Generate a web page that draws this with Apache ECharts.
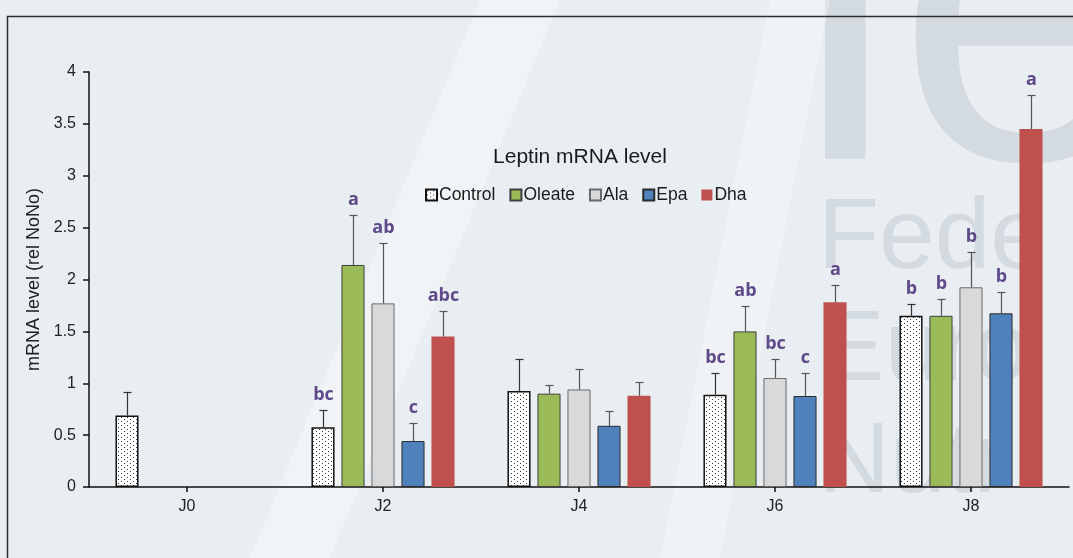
<!DOCTYPE html>
<html><head><meta charset="utf-8">
<script src="https://cdn.jsdelivr.net/npm/echarts/dist/echarts.min.js"></script>
<style>html,body{margin:0;padding:0;background:#e9eef2;overflow:hidden}#c{width:1073px;height:558px}</style>
</head><body><div id="c"></div>
<script>
const categories = ['J0', 'J2', 'J4', 'J6', 'J8'];
const seriesNames = ['Control', 'Oleate', 'Ala', 'Epa', 'Dha'];
const yTicks = [0, 0.5, 1, 1.5, 2, 2.5, 3, 3.5, 4];

const controlVals = [0.69, 0.575, 0.925, 0.89, 1.65];
const oleateVals  = [null, 2.14, 0.90, 1.50, 1.65];
const alaVals     = [null, 1.77, 0.94, 1.05, 1.925];
const epaVals     = [null, 0.443, 0.59, 0.877, 1.674];
const dhaVals     = [null, 1.45, 0.88, 1.78, 3.45];

const controlErr = [0.225, 0.165, 0.305, 0.21, 0.11];
const oleateErr  = [null, 0.48, 0.08, 0.24, 0.16];
const alaErr     = [null, 0.58, 0.20, 0.18, 0.34];
const epaErr     = [null, 0.177, 0.145, 0.223, 0.203];
const dhaErr     = [null, 0.25, 0.13, 0.17, 0.33];

const controlLetters = ['', 'bc', '', 'bc', 'b'];
const oleateLetters  = ['', 'a', '', 'ab', 'b'];
const alaLetters     = ['', 'ab', '', 'bc', 'b'];
const epaLetters     = ['', 'c', '', 'c', 'b'];
const dhaLetters     = ['', 'abc', '', 'a', 'a'];

const allVals = [controlVals, oleateVals, alaVals, epaVals, dhaVals];
const allErr = [controlErr, oleateErr, alaErr, epaErr, dhaErr];
const allLetters = [controlLetters, oleateLetters, alaLetters, epaLetters, dhaLetters];

// dotted pattern for Control
const pc = document.createElement('canvas');
pc.width = 6; pc.height = 8;
const g = pc.getContext('2d');
g.fillStyle = '#ffffff'; g.fillRect(0, 0, 6, 8);
g.fillStyle = '#3a3a3a';
g.fillRect(1, 1, 1, 1); g.fillRect(4, 3, 1, 1); g.fillRect(1, 5, 1, 1); g.fillRect(4, 7, 1, 1);

const styles = [
  { color: { image: pc, repeat: 'repeat' }, borderColor: '#111', borderWidth: 1.5 },
  { color: '#9bbb59', borderColor: '#3f3f3f', borderWidth: 1 },
  { color: '#d9d9d9', borderColor: '#6a6a6a', borderWidth: 1 },
  { color: '#4f81bd', borderColor: '#2b2b2b', borderWidth: 1 },
  { color: '#c0504d', borderColor: '#c0504d', borderWidth: 0 }
];
const errColors = ['#333', '#555', '#555', '#555', '#555'];

const CAT_FILL = 0.73, GAP = 0.3;
const FONT = '"Liberation Sans", Arial, sans-serif';

const series = [];
seriesNames.forEach((name, i) => {
  series.push({
    name: name, type: 'bar', data: allVals[i],
    barCategoryGap: '27%', barGap: '30%',
    itemStyle: styles[i], z: 2, silent: true
  });
});
seriesNames.forEach((name, i) => {
  const data = [];
  allVals[i].forEach((v, k) => { if (v != null) data.push([k, v, allErr[i][k]]); });
  series.push({
    type: 'custom', z: 5, silent: true,
    data: data,
    renderItem: function (params, api) {
      const k = api.value(0), v = api.value(1), e = api.value(2);
      const catW = api.size([1, 0])[0];
      const total = catW * CAT_FILL;
      const bw = total / (5 + 4 * GAP);
      const center = api.coord([k, 0])[0];
      const cx = Math.round(center - total / 2 + i * bw * (1 + GAP) + bw / 2) + 0.5;
      const yb = api.coord([k, v])[1];
      const yt = Math.round(api.coord([k, v + e])[1]) + 0.5;
      const letter = allLetters[i][k];
      const children = [
        { type: 'line', shape: { x1: cx, y1: yb, x2: cx, y2: yt }, style: { stroke: errColors[i], lineWidth: 1.2 } },
        { type: 'line', shape: { x1: cx - 4, y1: yt, x2: cx + 4, y2: yt }, style: { stroke: errColors[i], lineWidth: 1.2 } }
      ];
      if (letter) {
        children.push({ type: 'text', style: { x: cx, y: yt - 7, text: letter, fill: '#5e4a8b',
          font: 'bold 18px "Open Sans", Lato, sans-serif', textAlign: 'center', textVerticalAlign: 'bottom' } });
      }
      return { type: 'group', children: children };
    }
  });
});

const wm = 'rgba(150,162,172,0.26)';
const chart = echarts.init(document.getElementById('c'), null, { renderer: 'canvas' });
chart.setOption({
  animation: false,
  backgroundColor: '#e9eef2',
  graphic: [
    { type: 'text', z: -10, silent: true,
      style: { x: 794, y: 262, text: 'le', font: '460px ' + FONT, fill: wm, textVerticalAlign: 'bottom' } },
    { type: 'text', left: 818, top: 190, z: -10, silent: true,
      style: { text: 'Fede', font: '100px ' + FONT, fill: wm } },
    { type: 'text', left: 818, top: 302, z: -10, silent: true,
      style: { text: 'Euro', font: '100px ' + FONT, fill: wm } },
    { type: 'text', left: 818, top: 414, z: -10, silent: true,
      style: { text: 'Nutr', font: '100px ' + FONT, fill: wm } },
    { type: 'polygon', z: -9, silent: true, shape: { points: [[250, 558], [330, 558], [560, 0], [480, 0]] },
      style: { fill: 'rgba(255,255,255,0.35)' } },
    { type: 'polygon', z: -9, silent: true, shape: { points: [[660, 558], [720, 558], [830, 0], [770, 0]] },
      style: { fill: 'rgba(255,255,255,0.3)' } },
    { type: 'rect', z: -1, silent: true, shape: { x: 7.5, y: 16.5, width: 1100, height: 600 },
      style: { fill: 'none', stroke: '#2e2e2e', lineWidth: 1.5 } }
  ],
  title: {
    text: 'Leptin mRNA level', left: 575, top: 142, textAlign: 'center',
    textStyle: { fontFamily: FONT, fontSize: 21, fontWeight: 'normal', color: '#1a1a1a' }
  },
  legend: {
    data: seriesNames, left: 420, top: 181, itemWidth: 11, itemHeight: 11, itemGap: 14,
    icon: 'rect',
    textStyle: { fontFamily: FONT, fontSize: 17.5, color: '#1a1a1a', padding: [0, 0, 0, -3] }
  },
  grid: { left: 89, right: 4, top: 72, bottom: 71, containLabel: false },
  xAxis: {
    type: 'category', data: categories,
    axisLine: { lineStyle: { color: '#111', width: 1.5 } },
    axisTick: { show: true, alignWithLabel: true, length: 5, lineStyle: { color: '#111', width: 1.5 } },
    axisLabel: { fontFamily: FONT, fontSize: 16, color: '#222', margin: 12 }
  },
  yAxis: {
    type: 'value', min: 0, max: 4, interval: 0.5,
    name: 'mRNA level (rel NoNo)', nameLocation: 'middle', nameGap: 37, nameRotate: 90,
    nameTextStyle: { fontFamily: FONT, fontSize: 18, color: '#222' },
    splitLine: { show: false },
    axisLine: { show: true, lineStyle: { color: '#111', width: 1.5 } },
    axisTick: { show: true, length: 6, lineStyle: { color: '#111', width: 1.5 } },
    axisLabel: { fontFamily: FONT, fontSize: 16, color: '#222', margin: 13,
      formatter: v => (yTicks.indexOf(v) >= 0 ? String(v) : '') }
  },
  series: series
});
</script>
</body></html>
